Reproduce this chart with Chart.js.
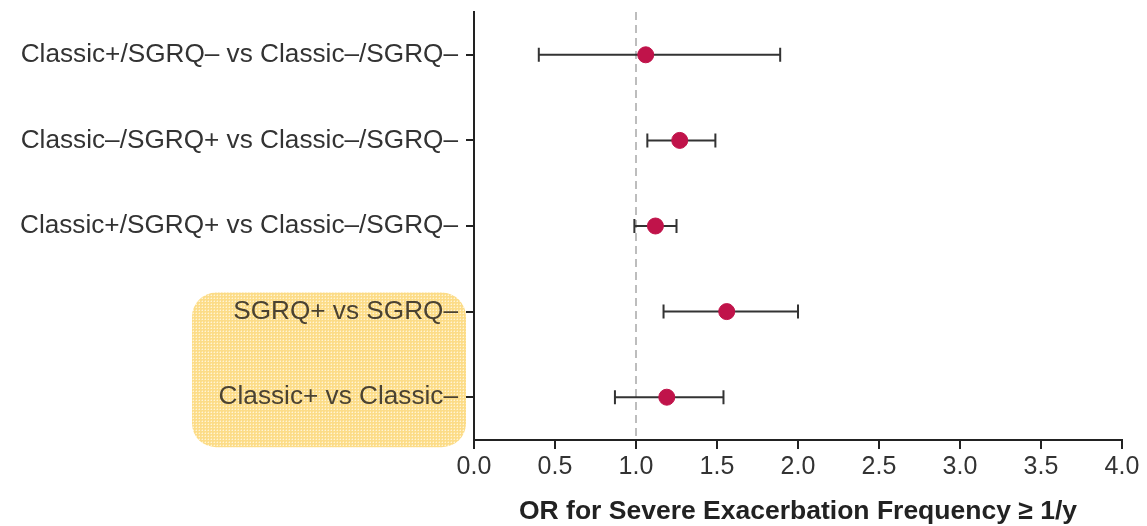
<!DOCTYPE html>
<html>
<head>
<meta charset="utf-8">
<script src="https://cdn.jsdelivr.net/npm/chart.js@4.4.1/dist/chart.umd.min.js"></script>
<style>
  html, body { margin: 0; padding: 0; background: #fff; }
  #wrap { width: 1147px; height: 526px; position: relative; }
</style>
</head>
<body>
<div id="wrap"><canvas id="forestChart"></canvas></div>
<script>
// comparisons, top to bottom
const comparisons = [
    'Classic+/SGRQ\u2013 vs Classic\u2013/SGRQ\u2013',
    'Classic\u2013/SGRQ+ vs Classic\u2013/SGRQ\u2013',
    'Classic+/SGRQ+ vs Classic\u2013/SGRQ\u2013',
    'SGRQ+ vs SGRQ\u2013',
    'Classic+ vs Classic\u2013'
];
const oddsRatios = [1.06, 1.27, 1.12, 1.56, 1.19];
const ciLower = [0.40, 1.07, 0.99, 1.17, 0.87];
const ciUpper = [1.89, 1.49, 1.25, 2.00, 1.54];
const xTicks = [0, 0.5, 1, 1.5, 2, 2.5, 3, 3.5, 4];
const refLine = 1.0;
const highlighted = [3, 4];

const textColor = '#333';
const axisColor = '#222';
const dotColor = '#c0134a';

// yellow dotted fill for the highlight box
function makePattern(ctx) {
    const c = document.createElement('canvas');
    c.width = 3; c.height = 3;
    const p = c.getContext('2d');
    p.fillStyle = '#fcdc88';
    p.fillRect(0, 0, 3, 3);
    p.fillStyle = '#fff4d6';
    p.fillRect(1, 1, 1, 1);
    p.fillStyle = '#fde7a8';
    p.fillRect(0, 1, 1, 1);
    p.fillRect(1, 0, 1, 1);
    return ctx.createPattern(c, 'repeat');
}

const forestExtras = {
    id: 'forestExtras',
    beforeDraw(chart) {
        const { ctx, scales: { y }, chartArea } = chart;
        const yTop = y.getPixelForValue(highlighted[0]) - 19;
        const yBot = y.getPixelForValue(highlighted[highlighted.length - 1]) + 50;
        const left = chartArea.left - 282;
        const right = chartArea.left - 8;
        ctx.save();
        ctx.fillStyle = makePattern(ctx);
        ctx.beginPath();
        ctx.roundRect(left, yTop, right - left, yBot - yTop, 24);
        ctx.fill();
        ctx.restore();
    },
    beforeDatasetsDraw(chart) {
        const { ctx, scales: { x, y }, chartArea } = chart;
        ctx.save();
        // reference line at OR = 1
        const rx = x.getPixelForValue(refLine);
        ctx.strokeStyle = '#a8a8a8';
        ctx.lineWidth = 1.5;
        ctx.setLineDash([8, 5]);
        ctx.beginPath();
        ctx.moveTo(rx, chartArea.top);
        ctx.lineTo(rx, chartArea.bottom);
        ctx.stroke();
        ctx.setLineDash([]);
        // confidence intervals
        ctx.strokeStyle = '#333';
        ctx.lineWidth = 2;
        comparisons.forEach((_, i) => {
            const py = y.getPixelForValue(i);
            const x0 = x.getPixelForValue(ciLower[i]);
            const x1 = x.getPixelForValue(ciUpper[i]);
            ctx.beginPath();
            ctx.moveTo(x0, py); ctx.lineTo(x1, py);
            ctx.moveTo(x0, py - 7); ctx.lineTo(x0, py + 7);
            ctx.moveTo(x1, py - 7); ctx.lineTo(x1, py + 7);
            ctx.stroke();
        });
        ctx.restore();
    }
};

new Chart(document.getElementById('forestChart'), {
    type: 'scatter',
    data: {
        datasets: [{
            label: 'OR',
            data: oddsRatios.map((v, i) => ({ x: v, y: i })),
            backgroundColor: dotColor,
            borderColor: dotColor,
            pointRadius: 8,
            pointHoverRadius: 8
        }]
    },
    options: {
        responsive: true,
        maintainAspectRatio: false,
        animation: false,
        layout: { padding: { left: 0, right: 25, top: 12, bottom: 0 } },
        plugins: {
            legend: { display: false },
            tooltip: { enabled: false }
        },
        scales: {
            x: {
                type: 'linear',
                min: 0,
                max: 4,
                afterBuildTicks: (scale) => { scale.ticks = xTicks.map(v => ({ value: v })); },
                afterFit: (scale) => { scale.height = 86; },
                ticks: {
                    color: textColor,
                    font: { family: 'Liberation Sans, Arial, sans-serif', size: 25 },
                    padding: 3,
                    maxRotation: 0,
                    callback: (v) => Number(v).toFixed(1)
                },
                grid: { drawOnChartArea: false, drawTicks: true, tickLength: 9, color: axisColor, lineWidth: 2 },
                border: { display: true, color: axisColor, width: 2 },
                title: {
                    display: true,
                    text: 'OR for Severe Exacerbation Frequency \u2265 1/y',
                    color: '#222',
                    font: { family: 'Liberation Sans, Arial, sans-serif', size: 26.5, weight: 'bold' },
                    padding: { top: 0, bottom: -2 }
                }
            },
            y: {
                type: 'linear',
                reverse: true,
                min: -0.5,
                max: comparisons.length - 0.5,
                afterBuildTicks: (scale) => { scale.ticks = comparisons.map((_, i) => ({ value: i })); },
                afterFit: (scale) => {
                    scale.width = 474;
                    scale.paddingTop = 0;
                    scale.paddingBottom = 0;
                },
                ticks: {
                    color: (c) => highlighted.includes(c.index) ? '#4a4232' : textColor,
                    font: { family: 'Liberation Sans, Arial, sans-serif', size: 26.2 },
                    padding: 8,
                    callback: (v) => comparisons[v]
                },
                grid: { drawOnChartArea: false, drawTicks: true, tickLength: 8, color: axisColor, lineWidth: 2 },
                border: { display: true, color: axisColor, width: 2 }
            }
        }
    },
    plugins: [forestExtras]
});
</script>
</body>
</html>
